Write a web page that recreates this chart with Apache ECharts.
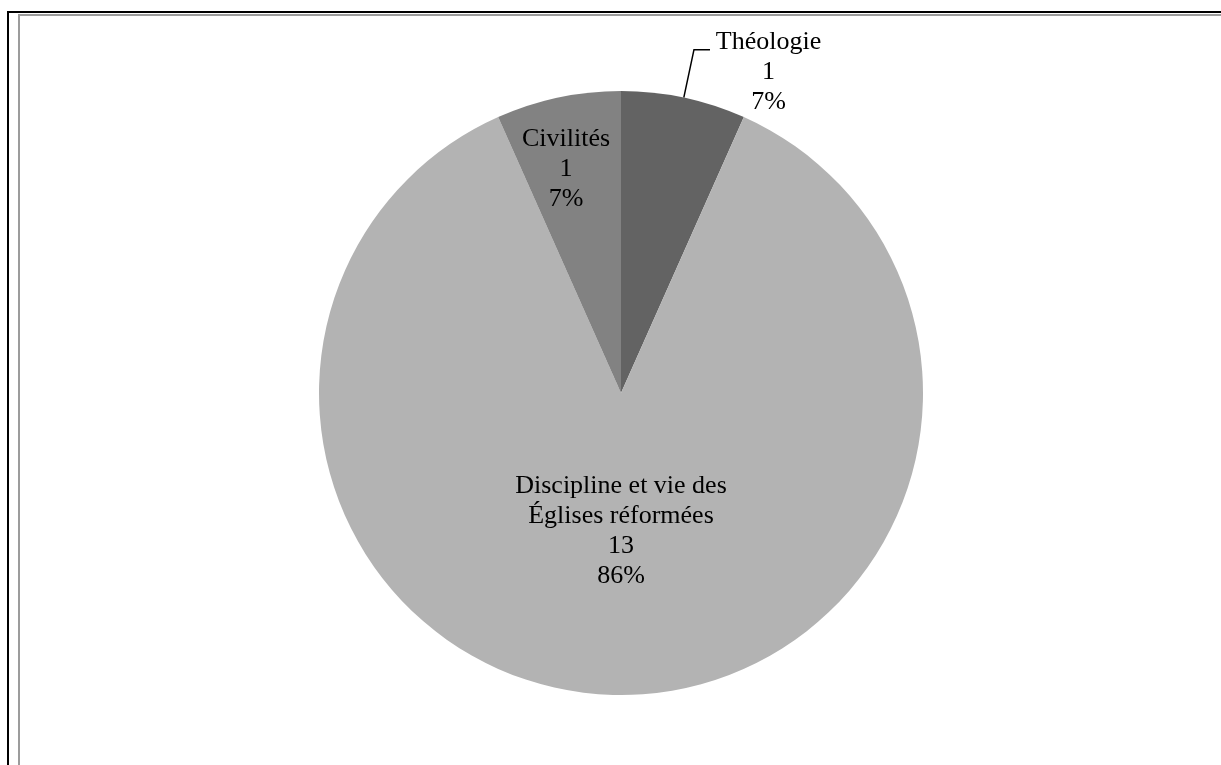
<!DOCTYPE html>
<html>
<head>
<meta charset="utf-8">
<script src="https://cdn.jsdelivr.net/npm/echarts@6/dist/echarts.min.js"></script>
<style>
  html, body { margin: 0; padding: 0; background: #fff; }
  #main { width: 1221px; height: 765px; }
</style>
</head>
<body>
<div id="main"></div>
<script>
  // 数据
  var categories = ["Théologie", "Discipline et vie des\nÉglises réformées", "Civilités"];
  var counts = [1, 13, 1];
  var pctLabels = ["7%", "86%", "7%"];
  var sliceColors = ["#636363", "#b3b3b3", "#828282"];

  (function () {
    var myChart = echarts.init(document.getElementById("main"));

    var labelFont = {
      fontFamily: "Liberation Serif",
      fontSize: 26,
      lineHeight: 30,
      color: "#000"
    };

    // 外部标签：每行居中，顶部加空行让引导线指向第一行
    var outsideLabel = {
      position: "outside",
      distanceToLabelLine: 5,
      formatter: function (p) {
        return "{s| }\n{a|" + p.name + "}\n{a|" + p.value + "}\n{a|" + pctLabels[p.dataIndex] + "}";
      },
      rich: {
        s: { fontSize: 2, lineHeight: 46, height: 46 },
        a: {
          fontFamily: "Liberation Serif",
          fontSize: 26,
          lineHeight: 30,
          color: "#000",
          width: 107,
          align: "center"
        }
      }
    };

    // 每个扇区的标签位置
    var labelOpts = [
      outsideLabel,
      { position: "inside", offset: [0, -16] },
      { position: "inside", offset: [-23, -73] }
    ];

    var data = categories.map(function (name, i) {
      return {
        name: name,
        value: counts[i],
        itemStyle: { color: sliceColors[i] },
        label: Object.assign({}, labelFont, labelOpts[i]),
        labelLine: { show: labelOpts[i].position === "outside" }
      };
    });

    var option = {
      backgroundColor: "#fff",
      animation: false,
      graphic: [
        {
          type: "rect",
          shape: { x: 8, y: 12, width: 1300, height: 800 },
          style: { fill: "none", stroke: "#000", lineWidth: 2 }
        },
        {
          type: "rect",
          shape: { x: 19, y: 15, width: 1300, height: 800 },
          style: { fill: "none", stroke: "#9c9c9c", lineWidth: 2 }
        }
      ],
      series: [
        {
          type: "pie",
          center: [621, 393],
          radius: [0, 302],
          startAngle: 90,
          clockwise: true,
          avoidLabelOverlap: false,
          itemStyle: { borderWidth: 0 },
          emphasis: { disabled: true },
          label: {
            formatter: function (p) {
              return p.name + "\n" + p.value + "\n" + pctLabels[p.dataIndex];
            }
          },
          labelLine: {
            length: 49,
            length2: 16,
            smooth: false,
            lineStyle: { color: "#000", width: 1.5 }
          },
          data: data
        }
      ]
    };

    myChart.setOption(option);
    window.addEventListener("resize", function () {
      myChart.resize();
    });
  })();
</script>
</body>
</html>
